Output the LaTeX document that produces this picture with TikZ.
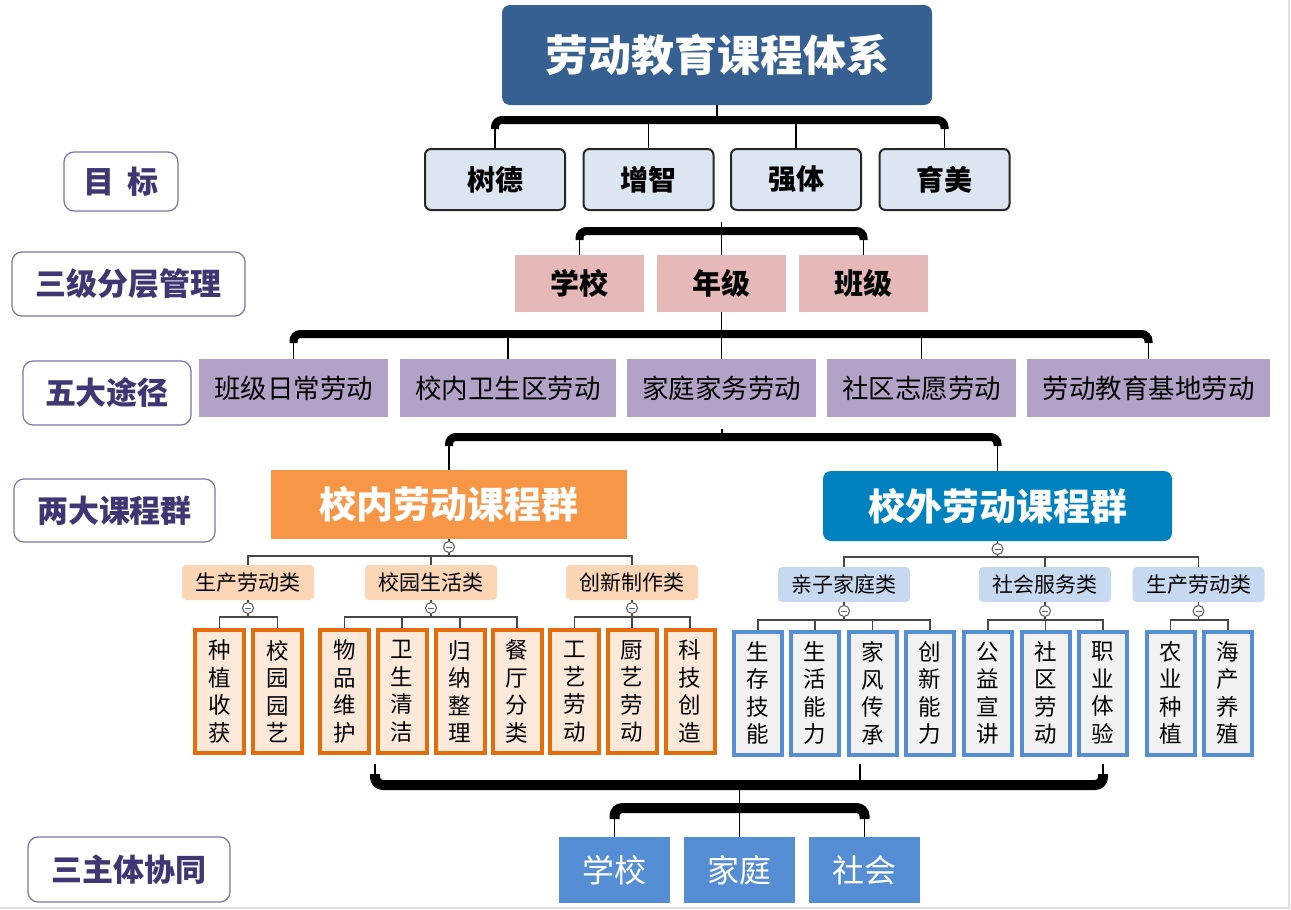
\documentclass[tikz,border=0pt]{standalone}
\usepackage{fontspec}
\setmainfont{Noto Sans CJK SC}
\usepackage{tikz}
\definecolor{titleblue}{RGB}{54,96,146}
\definecolor{goalfill}{RGB}{220,230,242}
\definecolor{levelpink}{RGB}{230,185,184}
\definecolor{routepurple}{RGB}{179,162,199}
\definecolor{inorange}{RGB}{247,150,70}
\definecolor{outblue}{RGB}{0,130,192}
\definecolor{catpeach}{RGB}{252,213,180}
\definecolor{catblue}{RGB}{198,217,241}
\definecolor{leafpeach}{RGB}{253,233,217}
\definecolor{leaforange}{RGB}{228,108,10}
\definecolor{leafgray}{RGB}{242,242,242}
\definecolor{midblue}{RGB}{85,142,213}
\definecolor{sideline}{RGB}{120,118,170}
\definecolor{sidetext}{RGB}{63,55,115}

\begin{document}
\begin{tikzpicture}[x=1pt, y=-1pt,
  every node/.style = {inner sep=0pt, align=center},
  top/.style = {fill=titleblue, rounded corners=8, text=white,
    font=\bfseries\fontsize{43}{50}\selectfont},
  goal/.style = {draw=black!85, line width=2, fill=goalfill, rounded corners=6,
    minimum height=61, font=\bfseries\fontsize{28}{34}\selectfont},
  level/.style = {fill=levelpink, minimum width=129, minimum height=57,
    font=\bfseries\fontsize{29}{34}\selectfont},
  route/.style = {fill=routepurple, minimum height=58,
    font=\fontsize{26.5}{32}\selectfont},
  group/.style = {text=white, font=\bfseries\fontsize{37}{44}\selectfont},
  catin/.style = {fill=catpeach, rounded corners=4, minimum width=132,
    minimum height=35, font=\fontsize{21}{25}\selectfont},
  catout/.style = {catin, fill=catblue},
  leafin/.style = {draw=leaforange, line width=4, fill=leafpeach,
    minimum width=49, minimum height=123, font=\fontsize{22.5}{27.5}\selectfont},
  leafout/.style = {leafin, draw=midblue, fill=leafgray, minimum width=48},
  actor/.style = {fill=midblue, text=white, minimum width=111, minimum height=66,
    font=\fontsize{32}{38}\selectfont},
  side/.style = {draw=sideline, line width=1.2, rounded corners=10, fill=white,
    text=sidetext, font=\bfseries\fontsize{31}{36}\selectfont},
  fold/.style = {circle, draw=black!65, line width=1, fill=white, minimum size=11,
    path picture={\draw[line width=1, midblue!80!black]
      ([xshift=-3]path picture bounding box.center) --
      ([xshift=3]path picture bounding box.center);}},
  bar/.style = {line width=8, rounded corners=7},
  barwide/.style = {line width=10, rounded corners=8},
  leg/.style = {line width=1.6},
  sub/.style = {draw=black!72, line width=1.5}]
  \useasboundingbox (0,0) rectangle (1291,910);

  % left labels
  \node[side, minimum width=114, minimum height=59] (sd1) at (121,181.5) {目\hspace{0.45em}标};
  \node[side, minimum width=233, minimum height=64] (sd2) at (128.5,284) {三级分层管理};
  \node[side, minimum width=168, minimum height=64] (sd3) at (107,393) {五大途径};
  \node[side, minimum width=201, minimum height=63] (sd4) at (114.5,510.5) {两大课程群};
  \node[side, minimum width=202, minimum height=65] (sd5) at (129,869.5) {三主体协同};

  \node[top, minimum width=430, minimum height=100] (sys) at (717,55) {劳动教育课程体系};

  \node[goal, minimum width=140] (g1) at (495,179.5) {树德};
  \node[goal, minimum width=130] (g2) at (648.5,179.5) {增智};
  \node[goal, minimum width=130] (g3) at (796,179.5) {强体};
  \node[goal, minimum width=130] (g4) at (944.5,179.5) {育美};

  \node[level] (l1) at (579.5,283.5) {学校};
  \node[level] (l2) at (721.5,283.5) {年级};
  \node[level] (l3) at (863.5,283.5) {班级};

  \node[route, minimum width=189] (r1) at (293.5,388) {班级日常劳动};
  \node[route, minimum width=216] (r2) at (508,388) {校内卫生区劳动};
  \node[route, minimum width=189] (r3) at (721.5,388) {家庭家务劳动};
  \node[route, minimum width=189] (r4) at (921.5,388) {社区志愿劳动};
  \node[route, minimum width=243] (r5) at (1148.5,388) {劳动教育基地劳动};

  \node[group, fill=inorange, minimum width=356, minimum height=69] (gin) at (449,504.5) {校内劳动课程群};
  \node[group, fill=outblue, rounded corners=8, minimum width=349, minimum height=70] (gout) at (997.5,506) {校外劳动课程群};
  \node[fold] (f1) at (449,547) {};
  \node[fold] (f2) at (997.5,549) {};

  \node[catin] (c1) at (248,582.5) {生产劳动类};
  \node[catin] (c2) at (431,582.5) {校园生活类};
  \node[catin] (c3) at (632,582.5) {创新制作类};
  \node[catout] (d1) at (844,584.5) {亲子家庭类};
  \node[catout] (d2) at (1045,584.5) {社会服务类};
  \node[catout] (d3) at (1198.5,584.5) {生产劳动类};
  \node[fold] (f3) at (248,608) {};
  \node[fold] (f4) at (431,608) {};
  \node[fold] (f5) at (632,608) {};
  \node[fold] (f6) at (844,611) {};
  \node[fold] (f7) at (1045,611) {};
  \node[fold] (f8) at (1198.5,611) {};

  \node[leafin] (a1) at (219.5,691.5) {种\\植\\收\\获};
  \node[leafin] (a2) at (277.5,691.5) {校\\园\\园\\艺};
  \node[leafin] (a3) at (344.5,691.5) {物\\品\\维\\护};
  \node[leafin] (a4) at (402,691.5) {卫\\生\\清\\洁};
  \node[leafin] (a5) at (460,691.5) {归\\纳\\整\\理};
  \node[leafin] (a6) at (517,691.5) {餐\\厅\\分\\类};
  \node[leafin] (a7) at (574.5,691.5) {工\\艺\\劳\\动};
  \node[leafin] (a8) at (632,691.5) {厨\\艺\\劳\\动};
  \node[leafin] (a9) at (690,691.5) {科\\技\\创\\造};

  \node[leafout] (b1) at (758,693) {生\\存\\技\\能};
  \node[leafout] (b2) at (815,693) {生\\活\\能\\力};
  \node[leafout] (b3) at (872.5,693) {家\\风\\传\\承};
  \node[leafout] (b4) at (930,693) {创\\新\\能\\力};
  \node[leafout] (b5) at (988,693) {公\\益\\宣\\讲};
  \node[leafout] (b6) at (1045.5,693) {社\\区\\劳\\动};
  \node[leafout] (b7) at (1103,693) {职\\业\\体\\验};
  \node[leafout] (b8) at (1170.5,693) {农\\业\\种\\植};
  \node[leafout] (b9) at (1228,693) {海\\产\\养\\殖};

  \node[actor] (p1) at (614.5,870) {学校};
  \node[actor] (p2) at (739.5,870) {家庭};
  \node[actor] (p3) at (864.5,870) {社会};

  % title -> goals
  \draw[leg] (sys.south) -- (sys.south |- 0,120);
  \draw[leg] (g1.north) -- (g1.north |- 0,121);
  \draw[leg] (g2.north) -- (g2.north |- 0,121);
  \draw[leg] (g3.north) -- (g3.north |- 0,121);
  \draw[leg] (g4.north) -- (g4.north |- 0,121);
  \draw[bar] (g1.north |- 0,129) |- (g4.north |- 0,120) -- (g4.north |- 0,129);

  % goals -> levels
  \coordinate (s2) at (721.5,222);
  \draw[leg] (s2) -- (l2.north);
  \draw[leg] (l1.north) -- (l1.north |- 0,232);
  \draw[leg] (l3.north) -- (l3.north |- 0,232);
  \draw[bar] (l1.north |- 0,240) |- (l3.north |- 0,231) -- (l3.north |- 0,240);

  % levels -> routes
  \draw[leg] (l2.south) -- (r3.north);
  \draw[leg] (r1.north) -- (r1.north |- 0,335);
  \draw[leg] (r2.north) -- (r2.north |- 0,335);
  \draw[leg] (r4.north) -- (r4.north |- 0,335);
  \draw[leg] (r5.north) -- (r5.north |- 0,335);
  \draw[bar] (r1.north |- 0,343) |- (r5.north |- 0,334) -- (r5.north |- 0,343);

  % routes -> groups
  \coordinate (s4) at (722,429);
  \draw[leg] (s4) -- (s4 |- 0,437);
  \draw[leg] (gin.north) -- (gin.north |- 0,438);
  \draw[leg] (gout.north) -- (gout.north |- 0,438);
  \draw[bar] (gin.north |- 0,446) |- (gout.north |- 0,437) -- (gout.north |- 0,446);

  % inside the school
  \draw[sub] (gin) -- (f1);
  \draw[sub] (f1) -- (f1 |- 0,556);
  \draw[sub] (c1.north) |- (c3.north |- 0,556) -- (c3.north);
  \draw[sub] (c2.north) -- (c2.north |- 0,556);
  \draw[sub] (c1) -- (f3);
  \draw[sub] (c2) -- (f4);
  \draw[sub] (c3) -- (f5);
  \draw[sub] (f3) -- (f3 |- 0,617);
  \draw[sub] (f4) -- (f4 |- 0,617);
  \draw[sub] (f5) -- (f5 |- 0,617);
  \draw[sub] (a1.north) |- (a2.north |- 0,617) -- (a2.north);
  \draw[sub] (a3.north) |- (a6.north |- 0,617) -- (a6.north);
  \draw[sub] (a4.north) -- (a4.north |- 0,617);
  \draw[sub] (a5.north) -- (a5.north |- 0,617);
  \draw[sub] (a7.north) |- (a9.north |- 0,617) -- (a9.north);
  \draw[sub] (a8.north) -- (a8.north |- 0,617);

  % outside the school
  \draw[sub] (gout) -- (f2);
  \draw[sub] (f2) -- (f2 |- 0,557);
  \draw[sub] (d1.north) |- (d3.north |- 0,557) -- (d3.north);
  \draw[sub] (d2.north) -- (d2.north |- 0,557);
  \draw[sub] (d1) -- (f6);
  \draw[sub] (d2) -- (f7);
  \draw[sub] (d3) -- (f8);
  \draw[sub] (f6) -- (f6 |- 0,620);
  \draw[sub] (f7) -- (f7 |- 0,620);
  \draw[sub] (f8) -- (f8 |- 0,620);
  \draw[sub] (b1.north) |- (b4.north |- 0,620) -- (b4.north);
  \draw[sub] (b2.north) -- (b2.north |- 0,620);
  \draw[sub] (b3.north) -- (b3.north |- 0,620);
  \draw[sub] (b5.north) |- (b7.north |- 0,620) -- (b7.north);
  \draw[sub] (b6.north) -- (b6.north |- 0,620);
  \draw[sub] (b8.north) |- (b9.north |- 0,620) -- (b9.north);

  % courses -> three partners
  \coordinate (u1) at (375,764);
  \coordinate (u2) at (860,764);
  \coordinate (u3) at (1103,764);
  \coordinate (s6) at (739.5,785);
  \draw[leg] (u1) -- (u1 |- 0,783);
  \draw[leg] (u2) -- (u2 |- 0,783);
  \draw[leg] (u3) -- (u3 |- 0,783);
  \draw[barwide] (u1 |- 0,774) |- (u3 |- 0,785) -- (u3 |- 0,774);
  \draw[leg] (s6) -- (p2.north);
  \draw[leg] (p1.north) -- (p1.north |- 0,810);
  \draw[leg] (p3.north) -- (p3.north |- 0,810);
  \draw[barwide] (p1.north |- 0,819) |- (p3.north |- 0,808) -- (p3.north |- 0,819);

  % page edge
  \draw[black!12, line width=2] (1289,0) -- (1289,908) -- (0,908);
\end{tikzpicture}
\end{document}
